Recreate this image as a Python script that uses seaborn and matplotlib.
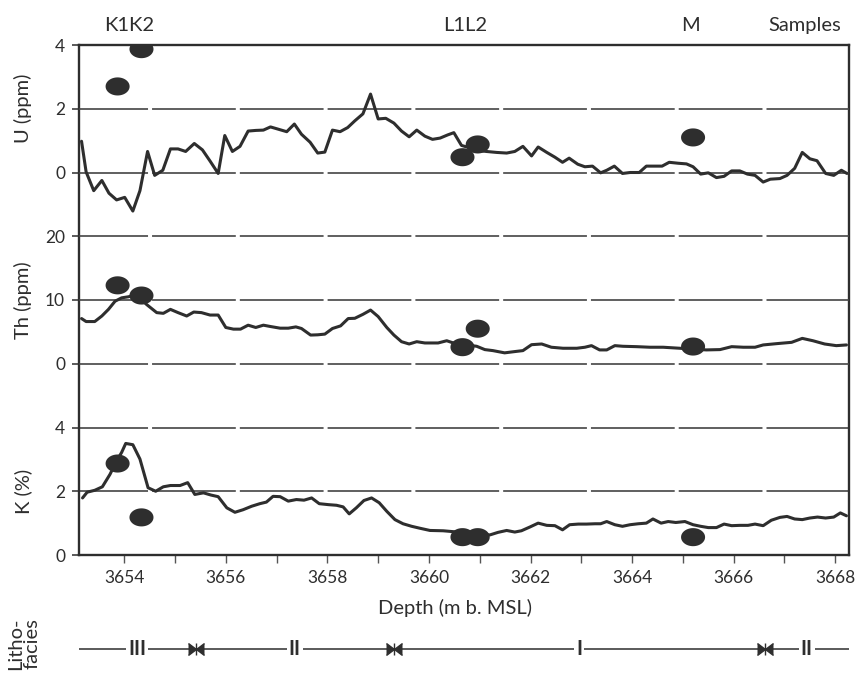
import numpy as np
import matplotlib
matplotlib.use('Agg')
import matplotlib.pyplot as plt
from matplotlib.markers import MarkerStyle
from matplotlib.ticker import MultipleLocator, StrMethodFormatter
import seaborn as sns

# gamma-ray spectrometry log, depth in m b. MSL
u_depth = [3653.16, 3653.25, 3653.40, 3653.56, 3653.70, 3653.85, 3654.01, 3654.17, 3654.31, 3654.46,
           3654.60, 3654.76, 3654.91, 3655.06, 3655.21, 3655.38, 3655.54, 3655.69, 3655.85, 3655.98,
           3656.13, 3656.28, 3656.44, 3656.59, 3656.74, 3656.88, 3657.03, 3657.20, 3657.35, 3657.49,
           3657.66, 3657.81, 3657.95, 3658.10, 3658.25, 3658.40, 3658.54, 3658.70, 3658.85, 3659.00,
           3659.15, 3659.31, 3659.46, 3659.61, 3659.76, 3659.92, 3660.07, 3660.22, 3660.37, 3660.49,
           3660.64, 3660.81, 3660.97, 3661.13, 3661.33, 3661.53, 3661.69, 3661.85, 3662.02, 3662.15,
           3662.32, 3662.48, 3662.63, 3662.76, 3662.93, 3663.07, 3663.22, 3663.38, 3663.50, 3663.65,
           3663.81, 3663.96, 3664.14, 3664.28, 3664.43, 3664.59, 3664.73, 3664.91, 3665.07, 3665.20,
           3665.35, 3665.50, 3665.66, 3665.81, 3665.96, 3666.12, 3666.27, 3666.42, 3666.58, 3666.72,
           3666.91, 3667.05, 3667.20, 3667.35, 3667.50, 3667.64, 3667.81, 3667.97, 3668.12, 3668.23]
u_ppm = [0.98, 0.02, -0.57, -0.25, -0.65, -0.86, -0.78, -1.21, -0.57, 0.66,
         -0.09, 0.07, 0.74, 0.74, 0.66, 0.91, 0.71, 0.36, -0.03, 1.16,
         0.66, 0.82, 1.30, 1.32, 1.33, 1.43, 1.36, 1.28, 1.52, 1.20,
         0.95, 0.61, 0.64, 1.33, 1.28, 1.41, 1.62, 1.84, 2.46, 1.68,
         1.70, 1.55, 1.30, 1.12, 1.33, 1.14, 1.04, 1.08, 1.18, 1.25,
         0.85, 0.77, 0.69, 0.66, 0.63, 0.61, 0.66, 0.82, 0.52, 0.80,
         0.63, 0.48, 0.32, 0.45, 0.26, 0.18, 0.20, -0.01, 0.07, 0.20,
         -0.03, 0.00, 0.00, 0.20, 0.20, 0.20, 0.32, 0.29, 0.27, 0.18,
         -0.05, -0.01, -0.16, -0.12, 0.05, 0.05, -0.05, -0.09, -0.30, -0.21,
         -0.19, -0.09, 0.13, 0.63, 0.43, 0.37, -0.03, -0.09, 0.07, -0.03]

th_depth = [3653.16, 3653.25, 3653.42, 3653.56, 3653.69, 3653.82, 3653.95, 3654.08, 3654.24, 3654.44,
            3654.64, 3654.77, 3654.91, 3655.06, 3655.23, 3655.37, 3655.52, 3655.69, 3655.85, 3656.00,
            3656.15, 3656.29, 3656.44, 3656.59, 3656.74, 3656.88, 3657.07, 3657.23, 3657.38, 3657.49,
            3657.67, 3657.81, 3657.95, 3658.10, 3658.26, 3658.41, 3658.54, 3658.70, 3658.85, 3659.00,
            3659.17, 3659.31, 3659.46, 3659.61, 3659.76, 3659.92, 3660.18, 3660.35, 3660.48, 3660.94,
            3661.10, 3661.26, 3661.49, 3661.69, 3661.85, 3662.02, 3662.22, 3662.41, 3662.64, 3662.91,
            3663.07, 3663.20, 3663.36, 3663.50, 3663.66, 3663.82, 3664.09, 3664.35, 3664.61, 3664.94,
            3665.46, 3665.73, 3665.96, 3666.19, 3666.42, 3666.58, 3666.84, 3667.14, 3667.35, 3667.56,
            3667.79, 3668.02, 3668.22]
th_ppm = [7.09, 6.62, 6.62, 7.49, 8.53, 9.81, 10.34, 10.50, 10.85, 9.30,
          8.02, 7.91, 8.53, 8.02, 7.49, 8.11, 8.02, 7.64, 7.64, 5.69,
          5.43, 5.43, 6.05, 5.69, 6.05, 5.84, 5.58, 5.58, 5.78, 5.53,
          4.50, 4.54, 4.65, 5.53, 5.94, 7.09, 7.13, 7.75, 8.42, 7.40,
          5.69, 4.50, 3.46, 3.10, 3.46, 3.26, 3.26, 3.61, 3.26, 2.74,
          2.22, 2.06, 1.71, 1.91, 2.06, 2.99, 3.10, 2.59, 2.43, 2.43,
          2.59, 2.84, 2.17, 2.17, 2.84, 2.74, 2.68, 2.59, 2.59, 2.43,
          2.17, 2.22, 2.68, 2.59, 2.59, 2.95, 3.15, 3.36, 3.98, 3.61,
          3.10, 2.84, 2.95]

k_depth = [3653.18, 3653.27, 3653.42, 3653.57, 3653.72, 3653.85, 3653.95, 3654.03, 3654.17, 3654.31,
           3654.47, 3654.62, 3654.77, 3654.91, 3655.10, 3655.25, 3655.39, 3655.56, 3655.71, 3655.85,
           3656.02, 3656.18, 3656.34, 3656.51, 3656.67, 3656.80, 3656.93, 3657.07, 3657.23, 3657.39,
           3657.54, 3657.69, 3657.84, 3658.02, 3658.18, 3658.31, 3658.43, 3658.57, 3658.72, 3658.87,
           3659.02, 3659.17, 3659.33, 3659.49, 3659.66, 3659.82, 3660.02, 3660.28, 3661.20, 3661.36,
           3661.53, 3661.69, 3661.82, 3661.99, 3662.15, 3662.32, 3662.48, 3662.63, 3662.77, 3662.94,
           3663.10, 3663.27, 3663.38, 3663.50, 3663.66, 3663.81, 3663.96, 3664.12, 3664.28, 3664.41,
           3664.57, 3664.71, 3664.86, 3665.04, 3665.20, 3665.35, 3665.50, 3665.66, 3665.81, 3665.96,
           3666.12, 3666.28, 3666.42, 3666.58, 3666.74, 3666.91, 3667.05, 3667.20, 3667.35, 3667.50,
           3667.65, 3667.81, 3667.97, 3668.10, 3668.22]
k_pct = [1.79, 1.97, 2.03, 2.14, 2.53, 2.95, 3.22, 3.50, 3.46, 3.01,
         2.11, 2.00, 2.14, 2.18, 2.18, 2.27, 1.90, 1.95, 1.88, 1.83,
         1.48, 1.34, 1.42, 1.53, 1.61, 1.66, 1.84, 1.83, 1.69, 1.74,
         1.72, 1.79, 1.61, 1.58, 1.56, 1.51, 1.29, 1.48, 1.71, 1.79,
         1.64, 1.37, 1.11, 0.98, 0.90, 0.84, 0.77, 0.76, 0.63, 0.71,
         0.77, 0.72, 0.76, 0.88, 1.00, 0.93, 0.92, 0.79, 0.95, 0.97,
         0.97, 0.98, 0.98, 1.05, 0.95, 0.90, 0.95, 0.98, 1.00, 1.13,
         1.00, 1.05, 1.02, 1.05, 0.95, 0.90, 0.86, 0.86, 0.97, 0.92,
         0.93, 0.93, 0.97, 0.92, 1.09, 1.18, 1.21, 1.13, 1.11, 1.16,
         1.19, 1.16, 1.19, 1.32, 1.23]

# core samples (K1, K2, L1, L2, M)
sample_depth = [3653.87, 3654.34, 3660.66, 3660.96, 3665.20]
sample_u = [2.70, 3.87, 0.48, 0.88, 1.10]
sample_th = [12.3, 10.7, 2.6, 5.5, 2.7]
sample_k = [2.87, 1.18, 0.56, 0.56, 0.56]
group_names = ['K1K2', 'L1L2', 'M']
group_depth = [3654.10, 3660.72, 3665.14]

# lithofacies intervals
litho_bounds = [3653.11, 3655.41, 3659.31, 3666.61, 3668.27]
litho_names = ['III', 'II', 'I', 'II']

sns.set_theme(style='ticks')
plt.rcParams['font.family'] = ['Lato', 'DejaVu Sans']
plt.rcParams['lines.scale_dashes'] = False

ink = '#2e2e2e'
fig = plt.figure(figsize=(8.58, 6.79), dpi=100)
rect = [79 / 858, 1 - 555 / 679, 770 / 858, 510 / 679]
ax_k = fig.add_axes(rect)
ax_th = fig.add_axes(rect, sharex=ax_k)
ax_u = fig.add_axes(rect, sharex=ax_k)

t = np.linspace(0, 2 * np.pi, 48)
ellipse = MarkerStyle(list(zip(1.33 * np.cos(t), np.sin(t))))
grid_kw = dict(color='#444444', lw=1.2, ls=(10.6, (60.3, 2.9)), zorder=1)

panels = [
    (ax_k, k_depth, k_pct, sample_k, (0, 16), [0, 2, 4], [2, 4], 'K (%)', 0.125),
    (ax_th, th_depth, th_ppm, sample_th, (-30, 50), [0, 10, 20], [0, 10, 20], 'Th (ppm)', 0.5),
    (ax_u, u_depth, u_ppm, sample_u, (-12, 4), [0, 2, 4], [0, 2], 'U (ppm)', 0.875),
]
for ax, d, v, s, ylim, ticks, grid, label, ypos in panels:
    for g in grid:
        ax.axhline(g, **grid_kw)
    sns.lineplot(x=d, y=v, ax=ax, color=ink, lw=2.2, estimator=None, sort=False, zorder=3)
    sns.scatterplot(x=sample_depth, y=s, ax=ax, marker=ellipse, s=300,
                    color=ink, edgecolor='none', linewidth=0, zorder=4)
    ax.set_ylim(*ylim)
    ax.set_yticks(ticks)
    ax.set_ylabel(label, fontsize=14.5, color=ink, va='center')
    ax.yaxis.set_label_coords(-0.073, ypos)
    ax.tick_params(axis='y', left=True, length=5, width=1.1, color=ink,
                   pad=5, labelsize=12.5, labelcolor=ink)

for ax in (ax_th, ax_u):
    ax.patch.set_visible(False)
    for sp in ax.spines.values():
        sp.set_visible(False)
    ax.tick_params(axis='x', which='both', bottom=False, labelbottom=False)

for sp in ax_k.spines.values():
    sp.set_visible(True)
    sp.set_color(ink)
    sp.set_linewidth(1.7)

ax_k.set_xlim(litho_bounds[0], litho_bounds[-1])
ax_k.xaxis.set_major_locator(MultipleLocator(2))
ax_k.xaxis.set_minor_locator(MultipleLocator(1))
ax_k.xaxis.set_major_formatter(StrMethodFormatter('{x:.0f}'))
ax_k.tick_params(axis='x', which='both', bottom=True, length=5.8, width=1,
                 color='#555555', pad=5, labelsize=12.5, labelcolor=ink)
ax_k.set_xlabel('Depth (m b. MSL)', fontsize=14.5, color=ink, va='center')
ax_k.xaxis.set_label_coords(0.488, -0.104)

for name, x in zip(group_names, group_depth):
    ax_u.text(x, 1.039, name, transform=ax_u.get_xaxis_transform(),
              ha='center', va='center', fontsize=14.5, color=ink)
ax_u.text(0.9896, 1.039, 'Samples', transform=ax_u.transAxes,
          ha='right', va='center', fontsize=14.5, color=ink)

# lithofacies strip
ax_l = fig.add_axes([79 / 858, 10 / 679, 770 / 858, 40 / 679], sharex=ax_k)
ax_l.set_ylim(-1, 1)
ax_l.axis('off')
ax_l.hlines(0, litho_bounds[0], litho_bounds[-1], color=ink, lw=1.1)
for b in litho_bounds[1:-1]:
    ax_l.plot(b, 0, marker=5, ms=8, color=ink)
    ax_l.plot(b, 0, marker=4, ms=8, color=ink)
    ax_l.plot(b, 0, marker='|', ms=9, mew=1.0, color=ink)
for lo, hi, name in zip(litho_bounds[:-1], litho_bounds[1:], litho_names):
    ax_l.text((lo + hi) / 2, 0, name, ha='center', va='center', fontsize=14.5,
              fontweight='bold', color=ink, bbox=dict(fc='white', ec='none', pad=1.5))

fig.text(24 / 858, 1 - 644 / 679, 'Litho-\nfacies', rotation=90, ha='center', va='center',
         fontsize=14.5, color=ink, linespacing=0.95)

fig.savefig('out.png', dpi=100)
